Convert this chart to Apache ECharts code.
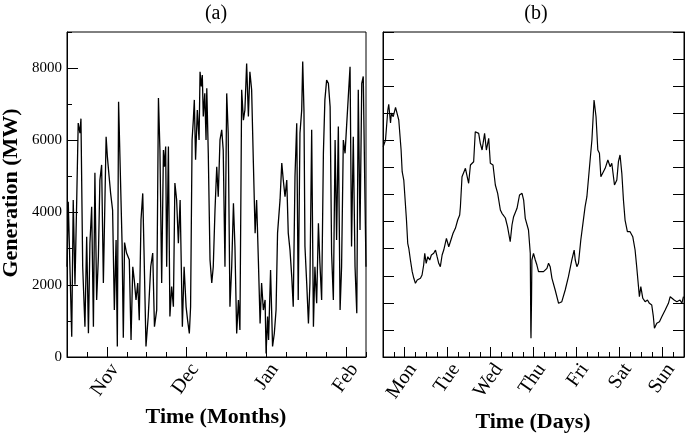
<!DOCTYPE html>
<html>
<head>
<meta charset="utf-8">
<script src="https://cdn.jsdelivr.net/npm/echarts@6/dist/echarts.min.js"></script>
<style>
html,body{margin:0;padding:0;background:#fff;}
#chart{width:685px;height:434px;}
</style>
</head>
<body>
<div id="chart"></div>
<script>
// ---- Panel (a): generation over months (x in days from chart start) ----
const leftDays = [0,0.5,1.9,2.5,3.2,3.9,4.5,5.2,5.6,6.3,7.2,7.9,8.6,9.2,9.9,10.6,11.2,11.9,12.6,13.2,13.9,14.6,15.7,16.2,16.9,17.5,18.3,19.0,19.7,20.2,20.7,21.5,22.1,22.6,23.1,23.9,25.0,25.7,26.4,27.0,27.7,28.4,29.0,29.7,30.4,30.9,31.7,32.6,33.6,34.4,35.1,36.0,36.7,37.3,38.0,38.7,39.1,39.6,40.0,40.7,41.3,42.0,42.7,43.3,44.0,44.7,45.4,46.3,47.0,47.8,48.4,49.1,49.6,50.2,50.7,51.1,51.6,52.3,53.0,53.4,53.9,54.3,54.7,55.3,55.8,56.1,56.7,57.4,58.1,58.7,59.4,60.1,60.7,61.4,62.1,62.7,63.4,64.1,64.7,65.4,66.1,66.8,67.4,68.1,68.8,69.4,70.1,70.8,71.4,72.1,72.8,73.4,74.1,74.8,75.5,76.1,76.8,77.5,78.1,78.8,79.5,79.9,80.5,80.9,81.7,82.5,83.2,83.9,84.5,85.5,86.2,86.8,87.5,88.2,88.8,89.5,90.2,90.8,91.5,92.2,92.8,93.5,94.2,94.6,95.1,95.5,96.2,96.9,97.5,98.2,98.9,99.5,100.2,100.9,101.5,102.2,102.9,103.5,104.2,104.9,105.6,106.2,106.9,107.6,108.2,108.9,109.6,110.2,110.9,111.6,112.2,112.9,113.6,114.2,114.9,115.6,116.3,116.9,117.6,118.3,118.9,119.6,120.0];
const leftMW = [2500,4300,560,4350,2000,4350,6480,6200,6600,2500,840,3330,660,3150,4160,840,5100,1580,2780,4900,5320,2050,6100,5550,5000,4540,4070,1300,3240,290,7070,7030,3150,530,3170,2880,2690,470,2500,2130,1580,2050,1020,3800,4530,2960,290,1120,2500,2880,840,1300,7170,5730,2050,5730,5270,5830,2500,5830,1120,1950,1390,4820,4350,3150,4350,840,2500,1390,1020,650,1390,6010,6560,7120,5460,6840,6010,7900,7490,7810,6660,7300,6010,7440,5650,2690,2050,2500,4070,5270,4440,6010,6290,5730,2500,7300,6200,1390,2500,4260,3060,650,1580,750,7400,6560,6840,8130,6660,7900,7400,5370,3430,4350,2690,930,2050,1300,1580,100,1120,470,2410,290,650,1300,3430,4350,5370,4900,4440,4900,3430,2960,2220,1390,5000,6470,1580,6200,6840,8180,6840,3060,2050,930,2050,6290,840,2500,1490,3700,2600,1580,5640,7120,7670,7580,6930,2870,1580,6010,3240,6380,1300,2500,6010,5640,6380,7210,8040,3060,6100,2500,1210,7400,3520,7580,7770,4350,2500];
const monthTickDays = [16,48,80,112];
const monthLabels = ['Nov','Dec','Jan','Feb'];
const leftYTicks = [0,2000,4000,6000,8000];

// ---- Panel (b): one week (x in hours) ----
const rightHours = [0.1,1.4,2.7,3.2,4.2,4.7,5.7,6.4,7.0,7.9,8.8,10.1,10.7,11.6,13.1,13.8,14.4,15.3,16.3,17.2,18.1,19.1,19.9,20.9,21.8,22.7,23.3,24.1,25.0,26.1,27.0,28.3,29.3,30.2,31.1,32.0,33.0,33.9,35.4,36.7,37.6,39.1,40.4,41.7,42.8,43.2,44.1,46.0,47.8,48.8,50.6,51.5,53.4,54.3,55.3,56.7,57.7,59.0,59.9,61.4,62.7,64.0,65.5,66.4,68.3,69.5,71.0,72.0,72.9,73.8,74.8,76.2,77.6,78.5,79.4,81.2,82.2,82.5,82.6,82.9,83.1,84.0,85.0,85.9,86.8,87.8,89.6,91.5,92.4,93.3,94.3,96.1,98.0,98.9,99.8,101.7,103.5,105.4,106.7,107.3,108.2,109.1,110.4,111.6,112.8,113.8,115.6,116.6,117.8,118.9,119.9,120.8,121.6,122.5,124.0,125.5,126.8,127.7,129.2,130.5,131.4,132.3,133.3,134.2,135.1,136.4,137.9,139.4,140.7,141.6,143.1,143.9,145.0,146.3,147.6,148.7,150.0,150.9,151.5,152.8,154.3,155.6,157.5,159.3,160.3,161.2,162.5,164.0,165.8,166.8,167.7];
const rightMW = [3882,4006,4560,4665,4320,4504,4436,4467,4609,4591,4375,3821,3421,3267,2529,2099,2007,1791,1575,1453,1360,1421,1390,1453,1514,1698,1914,1730,1852,1791,1883,1914,1975,1852,1730,1667,1883,1975,2191,2036,2128,2284,2376,2529,2621,2775,3328,3483,3207,3544,3605,4159,4129,3945,3821,4129,3821,4037,3576,3544,3175,3022,2714,2653,2566,2405,2128,2437,2590,2621,2745,2991,3022,2898,2560,2344,1914,498,345,1052,1791,1914,1791,1698,1575,1606,1575,1637,1730,1667,1453,1237,991,960,1021,1237,1482,1791,1975,1791,1667,1730,2160,2468,2775,2959,3637,4006,4744,4436,3821,3760,3328,3299,3483,3637,3513,3576,3175,3267,3605,3729,3391,2898,2529,2313,2313,2221,1975,1667,1113,1298,1084,1021,1052,991,960,744,530,622,652,744,868,991,1113,1084,1052,1021,1052,991,1113];
const dayTickHours = [12,36,60,84,108,132,156];
const dayLabels = ['Mon','Tue','Wed','Thu','Fri','Sat','Sun'];

const SERIF = '"Liberation Serif", "DejaVu Serif", serif';

const leftData = leftDays.map((d, i) => [d, leftMW[i]]);
const rightData = rightHours.map((h, i) => [h, rightMW[i]]);

const chart = echarts.init(document.getElementById('chart'), null, {renderer: 'canvas'});

const baseLine = {show: true, onZero: false, lineStyle: {color: '#000', width: 1}};
const noSplit = {show: false};

const option = {
  animation: false,
  backgroundColor: '#fff',
  grid: [
    {left: 67, top: 32, width: 299, height: 325, show: true, borderColor: '#000', borderWidth: 1, backgroundColor: 'transparent'},
    {left: 383, top: 32, width: 301, height: 325, show: true, borderColor: '#000', borderWidth: 1, backgroundColor: 'transparent'}
  ],
  xAxis: [
    {gridIndex: 0, type: 'value', position: 'bottom', min: 0, max: 120, interval: 8,
     axisLine: baseLine, axisTick: {show: true, inside: true, length: 5, lineStyle: {color: '#000'}},
     axisLabel: {show: false}, splitLine: noSplit},
    {gridIndex: 0, type: 'value', position: 'bottom', min: 0, max: 120,
     axisLine: {show: false, onZero: false},
     axisTick: {show: true, inside: true, length: 10, customValues: monthTickDays, lineStyle: {color: '#000'}},
     axisLabel: {show: true, customValues: monthTickDays, rotate: 55, align: 'right', verticalAlign: 'top', margin: 3,
       color: '#000', fontFamily: SERIF, fontSize: 20,
       formatter: v => monthLabels[monthTickDays.indexOf(v)] || ''},
     splitLine: noSplit},
    {gridIndex: 1, type: 'value', position: 'bottom', min: 0, max: 168, interval: 6,
     axisLine: baseLine, axisTick: {show: true, inside: true, length: 5, lineStyle: {color: '#000'}},
     axisLabel: {show: false}, splitLine: noSplit},
    {gridIndex: 1, type: 'value', position: 'bottom', min: 0, max: 168,
     axisLine: {show: false, onZero: false},
     axisTick: {show: true, inside: true, length: 10, customValues: dayTickHours, lineStyle: {color: '#000'}},
     axisLabel: {show: true, customValues: dayTickHours, rotate: 55, align: 'right', verticalAlign: 'top', margin: 3,
       color: '#000', fontFamily: SERIF, fontSize: 20,
       formatter: v => dayLabels[dayTickHours.indexOf(v)] || ''},
     splitLine: noSplit}
  ],
  yAxis: [
    {gridIndex: 0, type: 'value', position: 'left', min: 0, max: 9000, interval: 1000,
     axisLine: baseLine, axisTick: {show: true, inside: true, length: 5, lineStyle: {color: '#000'}},
     axisLabel: {show: false}, splitLine: noSplit},
    {gridIndex: 0, type: 'value', position: 'left', min: 0, max: 9000,
     axisLine: {show: false, onZero: false},
     axisTick: {show: true, inside: true, length: 11, customValues: leftYTicks, lineStyle: {color: '#000'}},
     axisLabel: {show: true, customValues: leftYTicks, margin: 5, color: '#000', fontFamily: SERIF, fontSize: 15,
       formatter: v => String(v)},
     splitLine: noSplit},
    {gridIndex: 1, type: 'value', position: 'left', min: 0, max: 6000, interval: 500,
     axisLine: baseLine, axisTick: {show: true, inside: true, length: 11, lineStyle: {color: '#000'}},
     axisLabel: {show: false}, splitLine: noSplit},
    {gridIndex: 1, type: 'value', position: 'right', min: 0, max: 6000, interval: 500,
     axisLine: baseLine, axisTick: {show: true, inside: true, length: 11, lineStyle: {color: '#000'}},
     axisLabel: {show: false}, splitLine: noSplit}
  ],
  series: [
    {type: 'line', xAxisIndex: 0, yAxisIndex: 0, data: leftData, showSymbol: false, symbol: 'none',
     lineStyle: {color: '#000', width: 1.3}, silent: true},
    {type: 'line', xAxisIndex: 2, yAxisIndex: 2, data: rightData, showSymbol: false, symbol: 'none',
     lineStyle: {color: '#000', width: 1.2}, silent: true}
  ],
  graphic: [
    {type: 'text', x: 216, y: 14, style: {text: '(a)', font: '20px ' + SERIF, fill: '#000', textAlign: 'center', textVerticalAlign: 'middle'}},
    {type: 'text', x: 536, y: 14, style: {text: '(b)', font: '20px ' + SERIF, fill: '#000', textAlign: 'center', textVerticalAlign: 'middle'}},
    {type: 'text', x: 216, y: 417, style: {text: 'Time (Months)', font: 'bold 22px ' + SERIF, fill: '#000', textAlign: 'center', textVerticalAlign: 'middle'}},
    {type: 'text', x: 533, y: 422, style: {text: 'Time (Days)', font: 'bold 22px ' + SERIF, fill: '#000', textAlign: 'center', textVerticalAlign: 'middle'}},
    {type: 'text', x: 11, y: 193, rotation: Math.PI / 2, style: {text: 'Generation (MW)', font: 'bold 22px ' + SERIF, fill: '#000', textAlign: 'center', textVerticalAlign: 'middle'}}
  ]
};
chart.setOption(option);
</script>
</body>
</html>
